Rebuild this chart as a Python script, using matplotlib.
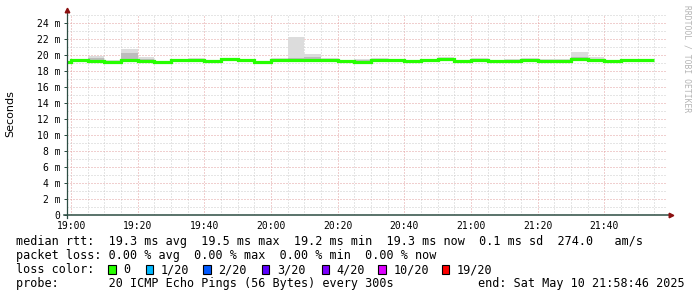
import pandas as pd
import matplotlib
matplotlib.use('Agg')
from matplotlib import pyplot as plt
import matplotlib.dates as mdates
from matplotlib.ticker import MultipleLocator, FuncFormatter
from matplotlib.patches import Rectangle

W, H = 697, 297

# median rtt per 5 minute step in ms (first step ends at 19:00)
median = [19.17, 19.33, 19.29, 19.17, 19.38, 19.29, 19.17, 19.33, 19.33, 19.25,
          19.50, 19.33, 19.17, 19.33, 19.33, 19.33, 19.38, 19.25, 19.17, 19.38,
          19.33, 19.29, 19.38, 19.50, 19.29, 19.33, 19.25, 19.29, 19.33, 19.29,
          19.21, 19.46, 19.33, 19.29, 19.38, 19.33]
# smoke: slowest ping, inner band and fastest ping per step (ms)
smoke_hi = [19.30, 19.45, 19.90, 19.35, 20.75, 19.80, 19.30, 19.45, 19.65, 19.35,
            19.60, 19.45, 19.30, 19.60, 22.25, 20.08, 19.60, 19.35, 19.50, 19.60,
            19.45, 19.40, 19.50, 19.75, 19.40, 19.60, 19.35, 19.45, 19.60, 19.45,
            19.45, 20.40, 19.70, 19.40, 19.50, 19.55]
smoke_mid = [19.25, 19.40, 19.60, 19.25, 20.30, 19.55, 19.25, 19.40, 19.45, 19.30,
             19.55, 19.40, 19.25, 19.45, 19.60, 19.70, 19.50, 19.30, 19.35, 19.50,
             19.40, 19.35, 19.45, 19.65, 19.35, 19.45, 19.30, 19.40, 19.45, 19.40,
             19.35, 19.80, 19.50, 19.35, 19.45, 19.45]
smoke_lo = [19.00, 19.15, 19.10, 19.00, 19.20, 19.10, 19.00, 19.15, 19.10, 19.05,
            19.30, 19.15, 19.00, 19.15, 19.15, 19.10, 19.20, 19.05, 19.00, 19.20,
            19.15, 19.10, 19.20, 19.30, 19.10, 19.15, 19.05, 19.10, 19.15, 19.10,
            19.05, 19.25, 19.15, 19.10, 19.20, 19.15]

loss_labels = ['0', '1/20', '2/20', '3/20', '4/20', '10/20', '19/20']
loss_colors = ['#26ff00', '#00b8ff', '#0059ff', '#5e00ff', '#7e00ff', '#dd00ff', '#ff0000']

stats_line = 'median rtt:  19.3 ms avg  19.5 ms max  19.2 ms min  19.3 ms now  0.1 ms sd  274.0   am/s'
loss_line = 'packet loss: 0.00 % avg  0.00 % max  0.00 % min  0.00 % now'
probe_line = 'probe:       20 ICMP Echo Pings (56 Bytes) every 300s'
end_line = 'end: Sat May 10 21:58:46 2025'

t_end = pd.Timestamp('2025-05-10 21:58:46')
t_start = t_end - pd.Timedelta(hours=3)
edges = pd.date_range('2025-05-10 18:55', periods=len(median) + 1, freq='5min')
e = mdates.date2num(edges.to_pydatetime())

MONO = 'DejaVu Sans Mono'
AXIS = '#2c4d43'
ARROW = '#8b1010'

fig = plt.figure(figsize=(W / 100, H / 100), dpi=100)
fig.patch.set_facecolor('white')
ax = fig.add_axes([67 / W, 1 - 215 / H, 600 / W, 200 / H])

# smoke
ax.stairs(smoke_hi, e, baseline=smoke_lo, fill=True, color='#dcdcdc', lw=0, zorder=2)
ax.stairs(smoke_mid, e, baseline=smoke_lo, fill=True, color='#bcbcbc', lw=0, zorder=3)
# median line
ax.stairs(median, e, baseline=None, color=loss_colors[0], lw=2.3, zorder=4)

ax.set_xlim(mdates.date2num(t_start.to_pydatetime()), mdates.date2num(t_end.to_pydatetime()))
ax.set_ylim(0, 25)

# grid
ax.xaxis.set_major_locator(mdates.MinuteLocator(byminute=[0, 20, 40]))
ax.xaxis.set_minor_locator(mdates.MinuteLocator(byminute=range(0, 60, 5)))
ax.xaxis.set_major_formatter(mdates.DateFormatter('%H:%M'))
ax.yaxis.set_major_locator(MultipleLocator(2))
ax.yaxis.set_minor_locator(MultipleLocator(1))
ax.yaxis.set_major_formatter(FuncFormatter(lambda v, p: '0' if v == 0 else '%d m' % v))
ax.grid(which='minor', color='#cccccc', lw=0.72, ls=(0, (1, 2)), zorder=1)
ax.grid(which='major', color='#e3a0a0', lw=0.72, ls=(0, (1, 2)), zorder=1)
ax.set_axisbelow(True)

for s in ax.spines.values():
    s.set_visible(False)
ax.tick_params(which='minor', length=0)
ax.tick_params(axis='y', which='major', length=2.2, width=0.72, color=AXIS, pad=2.6,
               labelsize=7)
ax.tick_params(axis='x', which='major', length=0, pad=4.5, labelsize=7)
for lab in ax.get_xticklabels() + ax.get_yticklabels():
    lab.set_fontfamily(MONO)

# axes with arrows
ax.plot([0, 0], [-0.015, 1.02], transform=ax.transAxes, color=AXIS, lw=0.9,
        clip_on=False, zorder=5)
ax.plot([-0.005, 1.006], [0, 0], transform=ax.transAxes, color=AXIS, lw=1.1,
        clip_on=False, zorder=5)
ax.plot([0], [1.025], transform=ax.transAxes, marker='^', ms=3.3, color=ARROW,
        clip_on=False, zorder=6)
ax.plot([1.007], [0], transform=ax.transAxes, marker='>', ms=3.3, color=ARROW,
        clip_on=False, zorder=6)

fig.text(10 / W, 1 - 114 / H, 'Seconds', rotation=90, ha='center', va='center',
         fontsize=8, family='DejaVu Sans')
fig.text(687 / W, 1 - 59 / H, 'RRDTOOL / TOBI OETIKER', rotation=-90, ha='center',
         va='center', fontsize=5.8, family=MONO, color='#b4b4b4')

# legend block
def line_text(x, y, s):
    fig.text(x / W, 1 - y / H, s, ha='left', va='baseline', fontsize=8.5, family=MONO)

line_text(16, 245.3, stats_line)
line_text(16, 259.3, loss_line)
line_text(16, 273.3, 'loss color:')
sq_x = [108.3, 145.7, 203.3, 261.7, 321.7, 378.3, 441.7]
for x, lab, c in zip(sq_x, loss_labels, loss_colors):
    fig.add_artist(Rectangle((x / W, 1 - 273.5 / H), 7.5 / W, 8.5 / H,
                             transform=fig.transFigure, fc=c, ec='black', lw=0.8))
    line_text(x + 15, 273.3, lab)
line_text(16, 287.3, probe_line)
line_text(478.3, 287.3, end_line)

fig.savefig('out.png', dpi=100, facecolor='white')
